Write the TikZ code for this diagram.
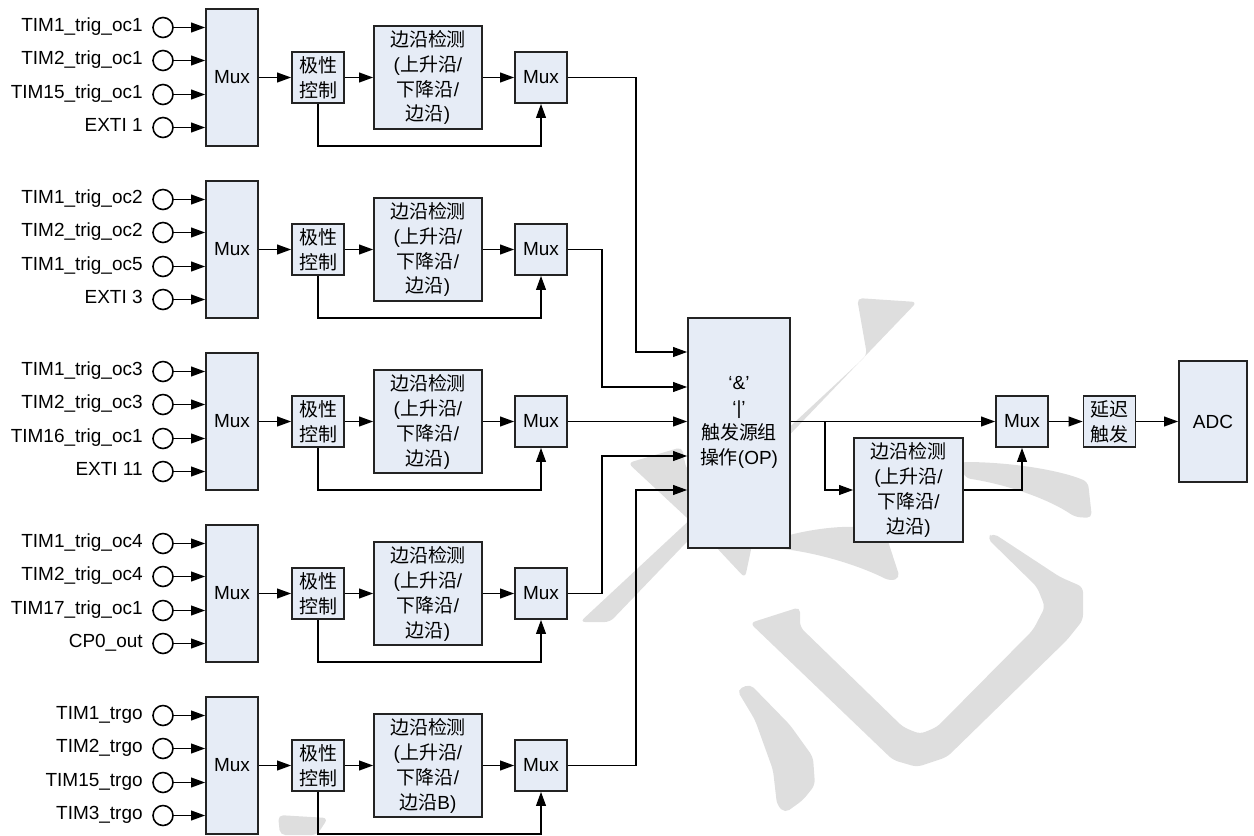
\documentclass[tikz,border=0pt]{standalone}
\usepackage{fontspec}
\setmainfont{Liberation Sans}
\newfontfamily\cjk{Noto Sans CJK SC}
\usetikzlibrary{arrows.meta,positioning}

\definecolor{boxfill}{RGB}{230,236,246}
\definecolor{boxline}{RGB}{35,35,35}
\definecolor{wmgray}{RGB}{222,222,222}

\newcommand{\edgetext}[1]{{\cjk 边沿检测}\\({\cjk 上升沿}/\\{\cjk 下降沿}/\\{\cjk 边沿}#1)}

\tikzset{
  blk/.style={draw=boxline,line width=0.9pt,fill=boxfill,inner sep=1pt,align=center,
    font=\fontsize{10.8}{14.2}\selectfont},
  muxbox/.style={blk,minimum width=1.04cm,minimum height=2.74cm},
  smallbox/.style={blk,minimum width=1.04cm,minimum height=1.02cm},
  edgebox/.style={blk,minimum width=2.16cm,minimum height=2.06cm},
  port/.style={circle,draw=black,line width=0.9pt,fill=white,minimum size=0.4cm,inner sep=0pt},
  sig/.style={draw,line width=1pt,-{Triangle[length=8pt,width=5.5pt]}},
  inlabel/.style={anchor=east,inner sep=0pt,text height=0.72em,text depth=0.21em,
    font=\fontsize{10.8}{12}\selectfont},
  wm/.style={fill=wmgray,rounded corners=3pt}
}

\begin{document}
\begin{tikzpicture}[x=0.02cm,y=-0.02cm]
  \useasboundingbox (0,0) rectangle (1254,835);

  % watermark
  \fill[wm] (857,298) -- (917,302) -- (610,622) -- (580,622) -- (867,355) -- cycle;
  \fill[wm] (628,463) -- (682,447) -- (686,468) -- (752,545) -- (745,578) -- (700,530) -- cycle;
  \fill[wm] (775,539) .. controls (820,526) and (860,524) .. (885,532) -- (900,578)
    -- (890,581) .. controls (860,566) and (820,553) .. (775,548) -- cycle;
  \fill[wm] (960,462) .. controls (1010,462) and (1060,470) .. (1088,482) -- (1092,518)
    -- (1075,517) .. controls (1050,500) and (1010,485) .. (965,478) -- cycle;
  \fill[wm] (750,623) -- (800,607) -- (800,627) -- (903,727) -- (920,734) -- (937,727)
    -- (1033,630) -- (1045,607) -- (1037,587) -- (987,538) -- (993,533) -- (1060,577)
    -- (1083,587) -- (1083,620) -- (1067,640) -- (947,757) -- (917,767) -- (893,760) -- cycle;
  \fill[wm] (737,690) -- (750,684) -- (790,725) -- (813,757) -- (815,785) -- (803,800)
    -- (785,813) -- (777,805) -- (773,770) -- (755,720) -- cycle;
  \fill[wm] (278,815) -- (328,818) -- (317,835) -- (280,835) -- cycle;

  % five trigger source groups
  \foreach \g/\la/\lb/\lc/\ld in {
      0/TIM1\_trig\_oc1/TIM2\_trig\_oc1/TIM15\_trig\_oc1/EXTI 1,
      1/TIM1\_trig\_oc2/TIM2\_trig\_oc2/TIM1\_trig\_oc5/EXTI 3,
      2/TIM1\_trig\_oc3/TIM2\_trig\_oc3/TIM16\_trig\_oc1/EXTI 11,
      3/TIM1\_trig\_oc4/TIM2\_trig\_oc4/TIM17\_trig\_oc1/CP0\_out,
      4/TIM1\_trgo/TIM2\_trgo/TIM15\_trgo/TIM3\_trgo}{
    \pgfmathsetmacro\yc{77.5+172*\g}
    \node[muxbox] (mux\g) at (232,\yc) {Mux};
    \node[smallbox] (pol\g) at (318,\yc) {{\cjk 极性}\\{\cjk 控制}};
    \node[edgebox] (edge\g) at (428,\yc) {\edgetext{\ifnum\g=4 B\fi}};
    \node[smallbox] (sel\g) at (541,\yc) {Mux};
    \coordinate (fb\g) at (541,\yc+68.5);
    \foreach \k/\dy/\t in {a/-50/\la,b/-17/\lb,c/17/\lc,d/50/\ld}{
      \node[port] (in\g\k) at (163,\yc+\dy) {};
      \node[inlabel] (lab\g\k) at (143,\yc+\dy) {\t};
      \draw[sig] (in\g\k) -- (in\g\k -| mux\g.west);
    }
    \draw[sig] (mux\g) -- (pol\g);
    \draw[sig] (pol\g) -- (edge\g);
    \draw[sig] (edge\g) -- (sel\g);
    \draw[sig] (pol\g.south) |- (fb\g) -- (sel\g.south);
  }

  % combining stage
  \node[blk,minimum width=2.04cm,minimum height=4.6cm] (op) at (739,433) {};
  \node[align=center,inner sep=0pt,font=\fontsize{10.8}{14.2}\selectfont] (optext) at (739,422.5)
    {‘\&’\\‘|’\\{\cjk 触发源组}\\{\cjk 操作}(OP)};

  \coordinate (j0) at (636,352);
  \coordinate (j1) at (602,387);
  \coordinate (j3) at (602,456);
  \coordinate (j4) at (636,490);
  \draw[sig] (sel0.east) -| (j0) -- (j0 -| op.west);
  \draw[sig] (sel1.east) -| (j1) -- (j1 -| op.west);
  \draw[sig] (sel2.east) -- (sel2.east -| op.west);
  \draw[sig] (sel3.east) -| (j3) -- (j3 -| op.west);
  \draw[sig] (sel4.east) -| (j4) -- (j4 -| op.west);

  % output stage
  \node[smallbox] (selo) at (1022,421.5) {Mux};
  \node[smallbox] (dly) at (1109.5,421.5) {{\cjk 延迟}\\{\cjk 触发}};
  \node[blk,minimum width=1.36cm,minimum height=2.42cm] (adc) at (1213,421.5) {ADC};
  \node[blk,minimum width=2.18cm,minimum height=2.08cm] (edgeo) at (908.5,490) {\edgetext{}};
  \coordinate (br) at (825,421.5);

  \draw[sig] (op.east |- selo) -- (selo.west);
  \draw[sig] (br) |- (edgeo.west);
  \draw[sig] (edgeo.east) -| (selo.south);
  \draw[sig] (selo) -- (dly);
  \draw[sig] (dly) -- (adc);
\end{tikzpicture}
\end{document}
